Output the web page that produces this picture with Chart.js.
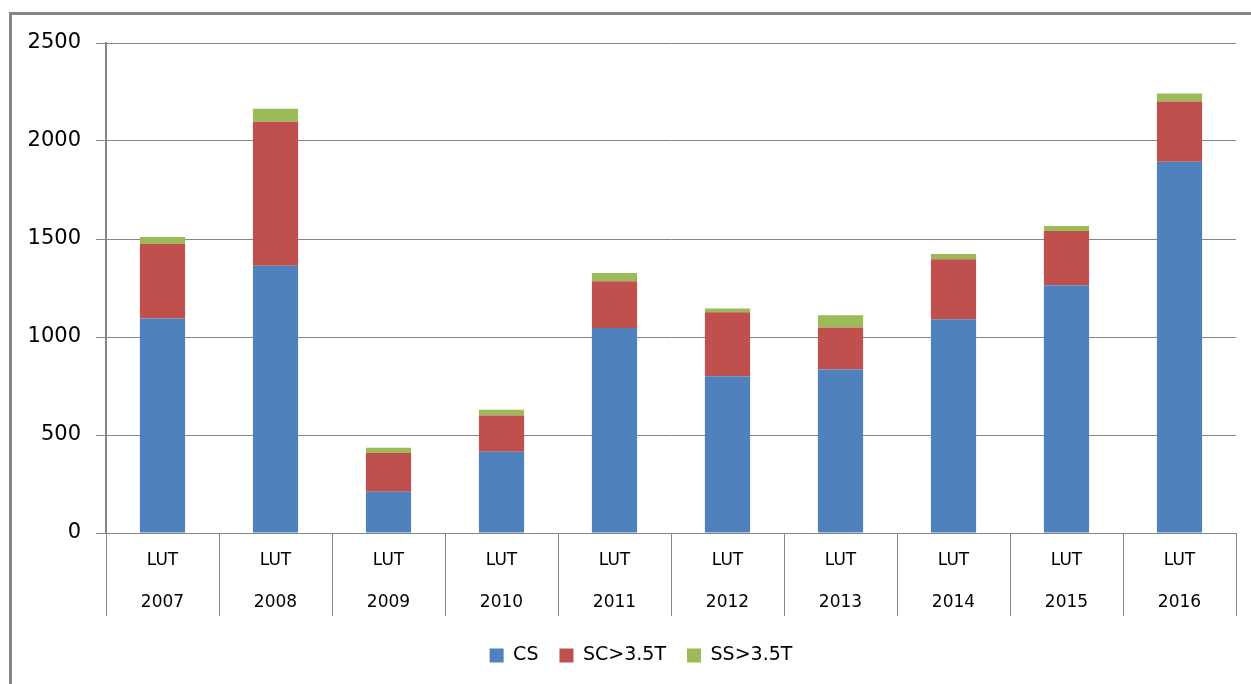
<!DOCTYPE html>
<html>
<head>
<meta charset="utf-8">
<script src="https://cdn.jsdelivr.net/npm/chart.js@4.4.0/dist/chart.umd.min.js"></script>
<style>
  html, body { margin: 0; padding: 0; background: #fff; overflow: hidden; }
  #frame { position: absolute; left: 9px; top: 12px; width: 1400px; height: 900px; border: 3px solid #868686; box-sizing: border-box; }
  #wrap { position: absolute; left: 0; top: 0; width: 1251px; height: 684px; }
</style>
</head>
<body>
<div id="frame"></div>
<div id="wrap"><canvas id="myChart" width="1251" height="684"></canvas></div>
<script>
'use strict';
let years = ['2007', '2008', '2009', '2010', '2011', '2012', '2013', '2014', '2015', '2016']
let group = 'LUT'
let csValues = [1095, 1363, 210, 415, 1046, 800, 834, 1090, 1264, 1894]
let scValues = [379, 735, 199, 184, 239, 326, 215, 307, 277, 307]
let ssValues = [36, 67, 26, 30, 41, 20, 62, 26, 25, 41]
let yTicks = [0, 500, 1000, 1500, 2000, 2500]
let seriesNames = ['CS', 'SC>3.5T', 'SS>3.5T']
let seriesColors = ['#4F81BD', '#C0504D', '#9BBB59']

let labels = []
for (let i = 0; i < years.length; i++) {
  labels.push([group, years[i]])
}
let allValues = [csValues, scValues, ssValues]
let datasets = []
for (let i = 0; i < seriesNames.length; i++) {
  datasets.push({
    label: seriesNames[i],
    data: allValues[i],
    backgroundColor: seriesColors[i],
    borderWidth: 0,
    barPercentage: 0.4,
    categoryPercentage: 1
  })
}

// the original legend sits a bit right of the canvas centre
let legendShift = {
  id: 'legendShift',
  afterLayout: function(chart) {
    chart.legend.left += 23
    chart.legend.right += 23
  }
}

const ctx = document.getElementById('myChart');
const myChart = new Chart(ctx, {
  type: 'bar',
  data: { labels: labels, datasets: datasets },
  plugins: [legendShift],
  options: {
    responsive: false,
    animation: false,
    layout: { padding: { top: 43, right: 15, left: 0, bottom: 9 } },
    plugins: {
      tooltip: { enabled: false },
      legend: {
        position: 'bottom',
        labels: {
          boxWidth: 14,
          boxHeight: 14,
          padding: 21,
          color: '#000',
          font: { family: 'DejaVu Sans', size: 19 }
        }
      }
    },
    scales: {
      x: {
        stacked: true,
        grid: {
          offset: true,
          drawOnChartArea: false,
          tickLength: 83,
          color: '#868686',
          lineWidth: 1
        },
        border: { color: '#868686', width: 1 },
        ticks: {
          padding: -76,
          color: '#000',
          maxRotation: 0,
          font: { family: 'DejaVu Sans', size: 17, lineHeight: 2.47 }
        },
        afterFit: function(scale) { scale.height = 92 }
      },
      y: {
        stacked: true,
        min: 0,
        max: 2500,
        afterBuildTicks: function(scale) {
          scale.ticks = yTicks.map(function(v) { return { value: v } })
        },
        grid: { color: '#868686', lineWidth: 1, tickLength: 10 },
        border: { color: '#868686', width: 2 },
        ticks: {
          padding: 15,
          color: '#000',
          font: { family: 'DejaVu Sans', size: 21 },
          callback: function(value) { return String(value) }
        },
        afterFit: function(scale) { scale.width = 106 }
      }
    }
  }
})
</script>
</body>
</html>
